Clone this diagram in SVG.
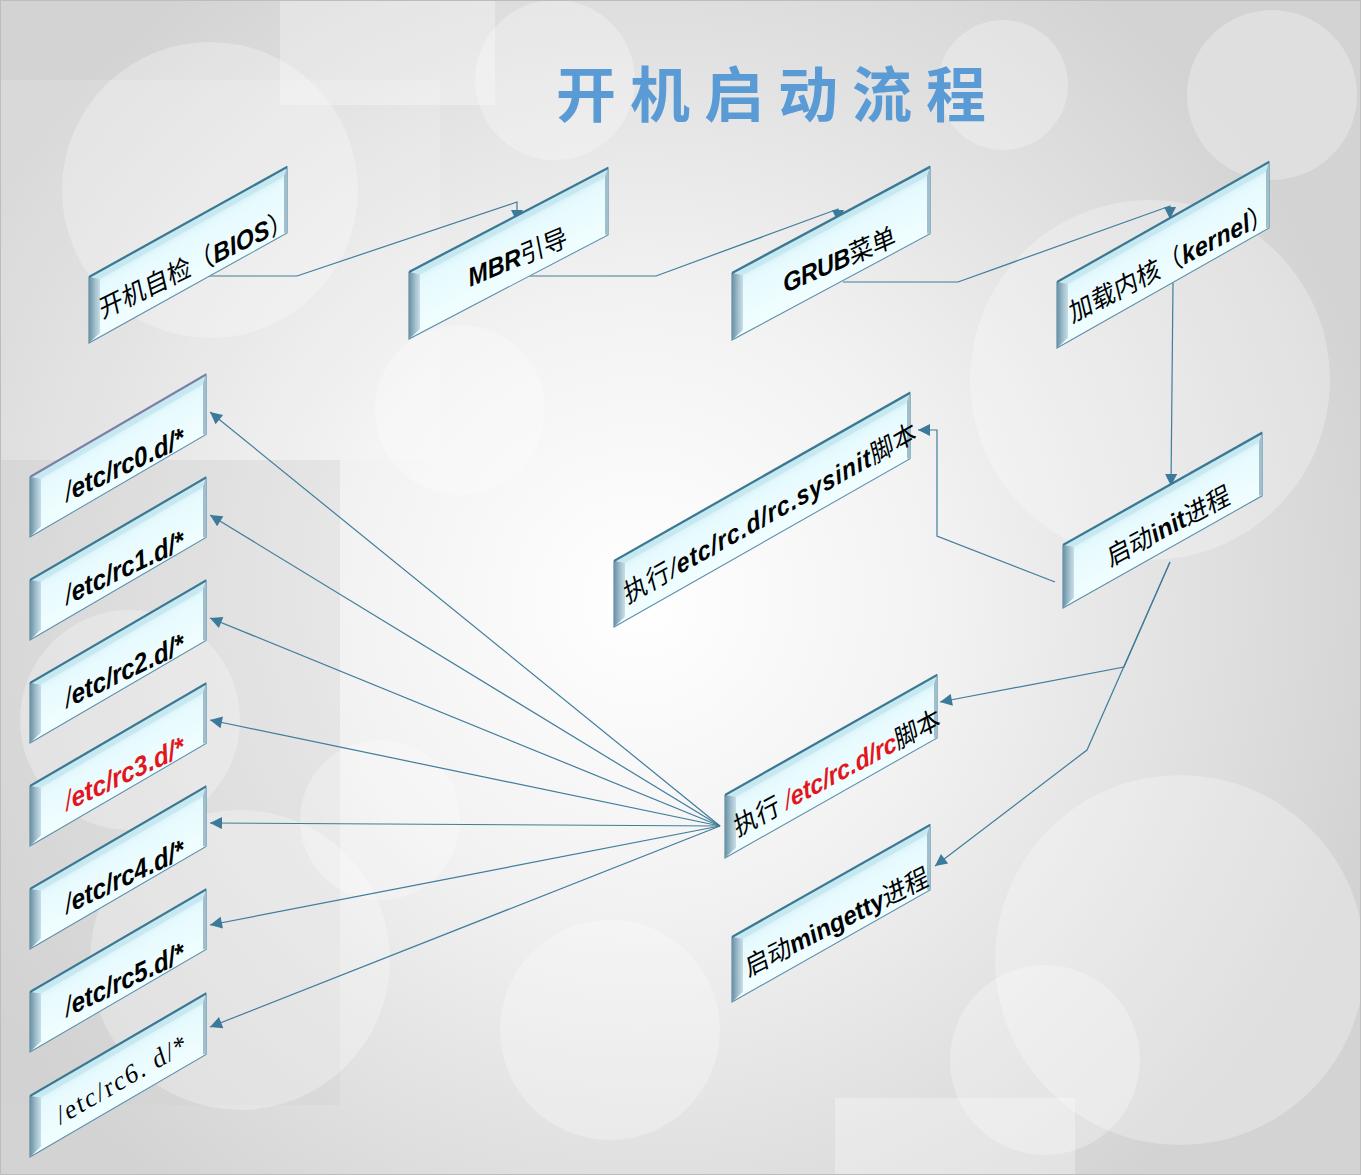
<svg xmlns="http://www.w3.org/2000/svg" width="1361" height="1175" viewBox="0 0 1361 1175">
<defs>
<radialGradient id="bgG" cx="640" cy="600" r="760" gradientUnits="userSpaceOnUse">
<stop offset="0" stop-color="#ffffff"/>
<stop offset="0.4" stop-color="#f2f2f2"/>
<stop offset="1" stop-color="#d3d3d3"/>
</radialGradient>
<linearGradient id="gFace" x1="0" y1="0" x2="0" y2="1">
<stop offset="0" stop-color="#cdedf5"/>
<stop offset="0.22" stop-color="#e6fafe"/>
<stop offset="1" stop-color="#f1feff"/>
</linearGradient>
<linearGradient id="gSide" x1="0" y1="0" x2="1" y2="0">
<stop offset="0" stop-color="#6a90a4"/>
<stop offset="0.6" stop-color="#a6c3d0"/>
<stop offset="1" stop-color="#c9dee7"/>
</linearGradient>
<marker id="ah" viewBox="0 0 10 10" refX="10" refY="5" markerWidth="16" markerHeight="12" orient="auto" markerUnits="userSpaceOnUse">
<path d="M0,0 L10,5 L0,10 z" fill="#3b7a9a"/>
</marker>
</defs>
<style>
.face{fill:url(#gFace);stroke:#5a8fa9;stroke-width:1.2}
.band{fill:#c4e6ef;opacity:.85}
.side{fill:url(#gSide)}
.rside{fill:#9fbfcd}
.top{fill:none;stroke:#3b7893;stroke-width:2.6}
.lbl{font-family:"Liberation Sans","Noto Sans CJK SC",sans-serif;font-size:25px;fill:#000}
.rcl{font-size:26px}
.b{font-weight:bold}
.bi{font-weight:bold;font-style:italic}
.it{font-style:italic}
.red{fill:#e3161d}
.con{fill:none;stroke:#3f7d9b;stroke-width:1.2}
.arr{marker-end:url(#ah)}
.deco{fill:#ffffff;opacity:.28}
</style>

<!-- background -->
<rect width="1361" height="1175" fill="url(#bgG)"/>
<rect x="0" y="460" width="340" height="645" fill="#d2d2d2" opacity=".35"/>
<rect x="280" y="0" width="215" height="105" fill="#ffffff" opacity=".3"/>
<rect x="0" y="80" width="440" height="380" fill="#ffffff" opacity=".15"/>
<rect x="835" y="1098" width="240" height="77" fill="#ffffff" opacity=".3"/>
<circle class="deco" cx="210" cy="190" r="148"/>
<circle class="deco" cx="555" cy="80" r="80"/>
<circle class="deco" cx="1003" cy="85" r="65"/>
<circle class="deco" cx="1272" cy="95" r="85"/>
<circle class="deco" cx="1150" cy="380" r="180"/>
<circle class="deco" cx="130" cy="720" r="110"/>
<circle class="deco" cx="240" cy="960" r="150"/>
<circle class="deco" cx="610" cy="1030" r="110"/>
<circle class="deco" cx="1180" cy="960" r="185"/>
<circle class="deco" cx="1045" cy="1060" r="95"/>
<circle class="deco" cx="380" cy="820" r="80"/>
<circle class="deco" cx="460" cy="410" r="85"/>
<rect x="0.5" y="0.5" width="1360" height="1174" fill="none" stroke="#bdbdbd"/>

<!-- title -->
<text x="778" y="117" text-anchor="middle" font-family="'Noto Sans CJK SC',sans-serif" font-weight="bold" font-size="60" letter-spacing="14" fill="#5b9bd5">开机启动流程</text>

<!-- connectors -->
<g id="connectors">
<path class="con arr" d="M209,276 H297 L517,202 V222"/>
<path class="con arr" d="M520,276 H656 L838,209 V222"/>
<path class="con arr" d="M843,282 H958 L1170,206 V219"/>
<path class="con arr" d="M1173,283 L1171,486"/>
<path class="con arr" d="M1055,582 L937,536 V430 H918"/>
<path class="con arr" d="M1170,562 L1124,667 L940,702"/>
<path class="con arr" d="M1170,562 L1087,750 L935,866"/>
<path class="con arr" d="M720,826 L210,412"/>
<path class="con arr" d="M720,826 L210,515"/>
<path class="con arr" d="M720,826 L210,618"/>
<path class="con arr" d="M720,826 L210,720"/>
<path class="con arr" d="M720,826 L210,823"/>
<path class="con arr" d="M720,826 L210,925"/>
<path class="con arr" d="M720,826 L210,1027"/>
</g>

<!-- nodes -->
<g id="n-bios">
<g transform="translate(89,277) skewY(-29.05)">
<rect class="face" width="198" height="66"/>
<polygon class="band" points="0,0 198,0 194,8 11,8"/>
<polygon class="side" points="0,0 11,8 11,62 0,66"/>
<polygon class="rside" points="198,0 198,66 195,64 195,7"/>
<path class="top" d="M0,0 H198"/>
</g>
<text class="lbl" transform="translate(102,319) rotate(-26) skewX(-13)" textLength="213" lengthAdjust="spacing">开机自检（<tspan class="bi">BIOS</tspan>）</text>
</g>

<g id="n-mbr">
<g transform="translate(409,272) skewY(-27.6)">
<rect class="face" width="199" height="67"/>
<polygon class="band" points="0,0 199,0 195,8 11,8"/>
<polygon class="side" points="0,0 11,8 11,63 0,67"/>
<polygon class="rside" points="199,0 199,67 196,65 196,7"/>
<path class="top" d="M0,0 H199"/>
</g>
<text class="lbl" transform="translate(470,287) rotate(-23) skewX(-11.5)"><tspan class="bi">MBR</tspan>引导</text>
</g>

<g id="n-grub">
<g transform="translate(732,273) skewY(-28.2)">
<rect class="face" width="198" height="67"/>
<polygon class="band" points="0,0 198,0 194,8 11,8"/>
<polygon class="side" points="0,0 11,8 11,63 0,67"/>
<polygon class="rside" points="198,0 198,67 195,65 195,7"/>
<path class="top" d="M0,0 H198"/>
</g>
<text class="lbl" transform="translate(785,293) rotate(-23.5) skewX(-12)" textLength="122" lengthAdjust="spacing"><tspan class="bi">GRUB</tspan>菜单</text>
</g>

<g id="n-kernel">
<g transform="translate(1057,282) skewY(-29.5)">
<rect class="face" width="212" height="66"/>
<polygon class="band" points="0,0 212,0 208,8 11,8"/>
<polygon class="side" points="0,0 11,8 11,62 0,66"/>
<polygon class="rside" points="212,0 212,66 209,64 209,7"/>
<path class="top" d="M0,0 H212"/>
</g>
<text class="lbl" transform="translate(1072,323) rotate(-27.4) skewX(-13.7)" textLength="227" lengthAdjust="spacing">加载内核（<tspan class="bi">kernel</tspan>）</text>
</g>

<g id="n-sysinit">
<g transform="translate(614,561) skewY(-29.6)">
<rect class="face" width="296" height="66"/>
<polygon class="band" points="0,0 296,0 292,8 11,8"/>
<polygon class="side" points="0,0 11,8 11,62 0,66"/>
<polygon class="rside" points="296,0 296,66 293,64 293,7"/>
<path class="top" d="M0,0 H296"/>
</g>
<text class="lbl" font-size="26" transform="translate(627,604) rotate(-29.5) skewX(-14.7)" textLength="334" lengthAdjust="spacing">执行<tspan class="it">/</tspan><tspan class="bi">etc/rc.d/rc.sysinit</tspan>脚本</text>
</g>

<g id="n-init">
<g transform="translate(1063,545) skewY(-29.4)">
<rect class="face" width="199" height="63"/>
<polygon class="band" points="0,0 199,0 195,8 11,8"/>
<polygon class="side" points="0,0 11,8 11,59 0,63"/>
<polygon class="rside" points="199,0 199,63 196,61 196,7"/>
<path class="top" d="M0,0 H199"/>
</g>
<text class="lbl" transform="translate(1110,567) rotate(-28) skewX(-14)">启动<tspan class="b">init</tspan>进程</text>
</g>

<g id="n-rc">
<g transform="translate(725,795) skewY(-29.5)">
<rect class="face" width="212" height="63"/>
<polygon class="band" points="0,0 212,0 208,8 11,8"/>
<polygon class="side" points="0,0 11,8 11,59 0,63"/>
<polygon class="rside" points="212,0 212,63 209,61 209,7"/>
<path class="top" d="M0,0 H212"/>
</g>
<text class="lbl" transform="translate(737,837) rotate(-28.5) skewX(-14)" textLength="233" lengthAdjust="spacing">执行 <tspan class="it red">/</tspan><tspan class="bi red">etc/rc.d/rc</tspan>脚本</text>
</g>

<g id="n-mingetty">
<g transform="translate(732,937) skewY(-29.5)">
<rect class="face" width="198" height="65"/>
<polygon class="band" points="0,0 198,0 194,8 11,8"/>
<polygon class="side" points="0,0 11,8 11,61 0,65"/>
<polygon class="rside" points="198,0 198,65 195,63 195,7"/>
<path class="top" d="M0,0 H198"/>
</g>
<text class="lbl" transform="translate(748,977) rotate(-27) skewX(-13.5)">启动<tspan class="b">mingetty</tspan>进程</text>
</g>

<g id="n-rc0">
<g transform="translate(30,477) skewY(-30.2)">
<rect class="face" width="176" height="60"/>
<polygon class="band" points="0,0 176,0 172,8 11,8"/>
<polygon class="side" points="0,0 11,8 11,56 0,60"/>
<polygon class="rside" points="176,0 176,60 173,58 173,7"/>
<path class="top" d="M0,0 H176" style="stroke:#7b7fa8"/>
</g>
<text class="lbl rcl" transform="translate(67,502) rotate(-25.5) skewX(-13)"><tspan class="it">/</tspan><tspan class="bi">etc/rc0.d/*</tspan></text>
</g>

<g id="n-rc1">
<g transform="translate(30,580) skewY(-30.2)">
<rect class="face" width="176" height="60"/>
<polygon class="band" points="0,0 176,0 172,8 11,8"/>
<polygon class="side" points="0,0 11,8 11,56 0,60"/>
<polygon class="rside" points="176,0 176,60 173,58 173,7"/>
<path class="top" d="M0,0 H176"/>
</g>
<text class="lbl rcl" transform="translate(67,605) rotate(-25.5) skewX(-13)"><tspan class="it">/</tspan><tspan class="bi">etc/rc1.d/*</tspan></text>
</g>

<g id="n-rc2">
<g transform="translate(30,683) skewY(-30.2)">
<rect class="face" width="176" height="60"/>
<polygon class="band" points="0,0 176,0 172,8 11,8"/>
<polygon class="side" points="0,0 11,8 11,56 0,60"/>
<polygon class="rside" points="176,0 176,60 173,58 173,7"/>
<path class="top" d="M0,0 H176"/>
</g>
<text class="lbl rcl" transform="translate(67,708) rotate(-25.5) skewX(-13)"><tspan class="it">/</tspan><tspan class="bi">etc/rc2.d/*</tspan></text>
</g>

<g id="n-rc3">
<g transform="translate(30,786) skewY(-30.2)">
<rect class="face" width="176" height="60"/>
<polygon class="band" points="0,0 176,0 172,8 11,8"/>
<polygon class="side" points="0,0 11,8 11,56 0,60"/>
<polygon class="rside" points="176,0 176,60 173,58 173,7"/>
<path class="top" d="M0,0 H176"/>
</g>
<text class="lbl rcl red" transform="translate(67,811) rotate(-25.5) skewX(-13)"><tspan class="it">/</tspan><tspan class="bi">etc/rc3.d/*</tspan></text>
</g>

<g id="n-rc4">
<g transform="translate(30,889) skewY(-30.2)">
<rect class="face" width="176" height="60"/>
<polygon class="band" points="0,0 176,0 172,8 11,8"/>
<polygon class="side" points="0,0 11,8 11,56 0,60"/>
<polygon class="rside" points="176,0 176,60 173,58 173,7"/>
<path class="top" d="M0,0 H176"/>
</g>
<text class="lbl rcl" transform="translate(67,914) rotate(-25.5) skewX(-13)"><tspan class="it">/</tspan><tspan class="bi">etc/rc4.d/*</tspan></text>
</g>

<g id="n-rc5">
<g transform="translate(30,992) skewY(-30.2)">
<rect class="face" width="176" height="60"/>
<polygon class="band" points="0,0 176,0 172,8 11,8"/>
<polygon class="side" points="0,0 11,8 11,56 0,60"/>
<polygon class="rside" points="176,0 176,60 173,58 173,7"/>
<path class="top" d="M0,0 H176"/>
</g>
<text class="lbl rcl" transform="translate(67,1017) rotate(-25.5) skewX(-13)"><tspan class="it">/</tspan><tspan class="bi">etc/rc5.d/*</tspan></text>
</g>

<g id="n-rc6">
<g transform="translate(30,1096) skewY(-30.2)">
<rect class="face" width="176" height="61"/>
<polygon class="band" points="0,0 176,0 172,8 11,8"/>
<polygon class="side" points="0,0 11,8 11,57 0,61"/>
<polygon class="rside" points="176,0 176,61 173,59 173,7"/>
<path class="top" d="M0,0 H176"/>
</g>
<text font-family="'Liberation Serif',serif" font-size="26" letter-spacing="2" fill="#000" transform="translate(60,1125) rotate(-30) skewX(-12)">/etc/rc6. d/*</text>
</g>
</svg>
